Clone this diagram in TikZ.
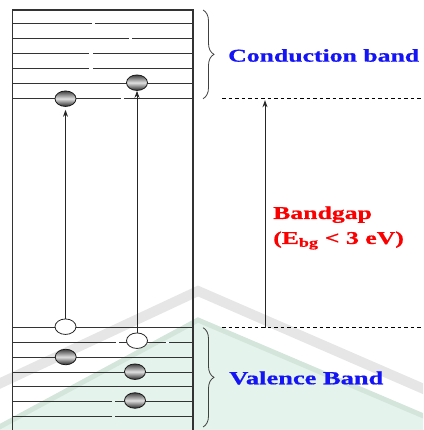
\documentclass[tikz,border=0pt]{standalone}
\usepackage{fontspec}
\setmainfont{Liberation Serif}
\newfontfamily\labelfont[FakeStretch=1.43, BoldFeatures={FakeBold=0.8}]{Liberation Serif}
\usepackage{tikz}
\usetikzlibrary{shapes.geometric, arrows.meta, positioning, decorations.pathreplacing}
\definecolor{bandblue}{RGB}{20,20,245}
\definecolor{gapred}{RGB}{250,0,0}
\definecolor{wmgray}{RGB}{230,230,230}
\definecolor{wmgreen}{RGB}{228,243,236}
\definecolor{wmedge}{RGB}{212,229,219}

\begin{document}
\begin{tikzpicture}[
    x=1pt, y=-1pt,
    level/.style={draw=black!80, line width=1pt},
    boxline/.style={draw=black!80, line width=1.1pt},
    gapline/.style={dash pattern=on 3.5pt off 3pt, line width=0.9pt},
    electron/.style={ellipse, draw=black!90, line width=0.8pt, minimum width=21pt, minimum height=15.5pt, inner sep=0pt,
        top color=black!75, bottom color=black!85, middle color=black!12},
    hole/.style={ellipse, draw=black!85, line width=0.8pt, fill=white, minimum width=21pt, minimum height=15.5pt, inner sep=0pt},
    arrow/.style={-{Stealth[length=7pt, width=5pt]}, line width=0.8pt, black!85},
    bandbrace/.style={decorate, decoration={brace, amplitude=11pt}, line width=0.8pt, black!75},
    bandlabel/.style={anchor=west, font=\labelfont\bfseries\fontsize{18.5}{25}\selectfont, inner sep=0pt, align=left}
]
    \path[use as bounding box, clip] (0,0) rectangle (423,430);

    % watermark in the background
    \fill[wmgreen] (-10,440) -- (-10,432) -- (198,320) -- (433,420) -- (433,440) -- cycle;
    \draw[wmedge, line width=5pt] (-10,432) -- (198,320) -- (433,420);
    \draw[wmgray, line width=10pt] (-10,388) -- (198,291) -- (433,393);

    % box of the levels
    \draw[boxline] (12.5,440) -- (12.5,10) -- (193,10) -- (193,440);

    % conduction levels: y / gap start / gap end
    \foreach \y/\ga/\gb in {24/92/95, 39/129/132, 54/89/93, 69/89/93, 84/100/100, 98.7/121/124}
        \draw[level] (12.5,\y) -- (\ga,\y) (\gb,\y) -- (193,\y);

    % valence levels
    \foreach \y/\ga/\gb in {327.7/100/100, 342.3/116/119, 357/100/100, 372/100/100, 386.7/100/100, 401.7/112/115, 416/112/115}
        \draw[level] (12.5,\y) -- (\ga,\y) (\gb,\y) -- (193,\y);
    \draw[draw=white, line width=1.3pt] (166,342.3) -- (168.5,342.3);

    % band edges
    \coordinate (cbtop) at (203,10);
    \coordinate (cbbot) at (203,98.7);
    \coordinate (vbtop) at (203,327.7);
    \coordinate (vbbot) at (203,427);
    \coordinate (cbedge) at (222,98.7);
    \coordinate (vbedge) at (222,327.7);
    \coordinate (cbend) at (423,98.7);
    \coordinate (vbend) at (423,327.7);
    \coordinate (gaptop) at (265,98.7);
    \coordinate (gapbot) at (265,327.7);

    \draw[gapline] (cbedge) -- (cbend);
    \draw[gapline] (vbedge) -- (vbend);

    % braces and labels
    \draw[bandbrace] (cbtop) -- (cbbot);
    \draw[bandbrace] (vbtop) -- (vbbot);
    \node[bandlabel, text=bandblue, font=\labelfont\bfseries\fontsize{18}{25}\selectfont] (cblabel) at (228,55.5) {Conduction band};
    \node[bandlabel, text=bandblue] (vblabel) at (229,378) {Valence Band};

    % bandgap
    \draw[arrow, shorten >=1.5pt] (gapbot) -- (gaptop);
    \node[bandlabel, text=gapred, font=\labelfont\bfseries\fontsize{18}{25}\selectfont] (gaplabel) at (273,228) {Bandgap\\(E\textsubscript{bg} < 3 eV)};

    % electrons and holes
    \node[hole] (h1) at (65.5,326.7) {};
    \node[hole] (h2) at (137,340.7) {};
    \node[electron] (e1) at (65.5,98.7) {};
    \node[electron] (e2) at (137,82.7) {};
    \node[electron] (v1) at (65.7,357) {};
    \node[electron] (v2) at (135,371.7) {};
    \node[electron] (v3) at (135,400.5) {};

    % excitation
    \draw[arrow, shorten >=3pt] (h1) -- (e1);
    \draw[arrow] (h2) -- (e2);

\end{tikzpicture}
\end{document}
